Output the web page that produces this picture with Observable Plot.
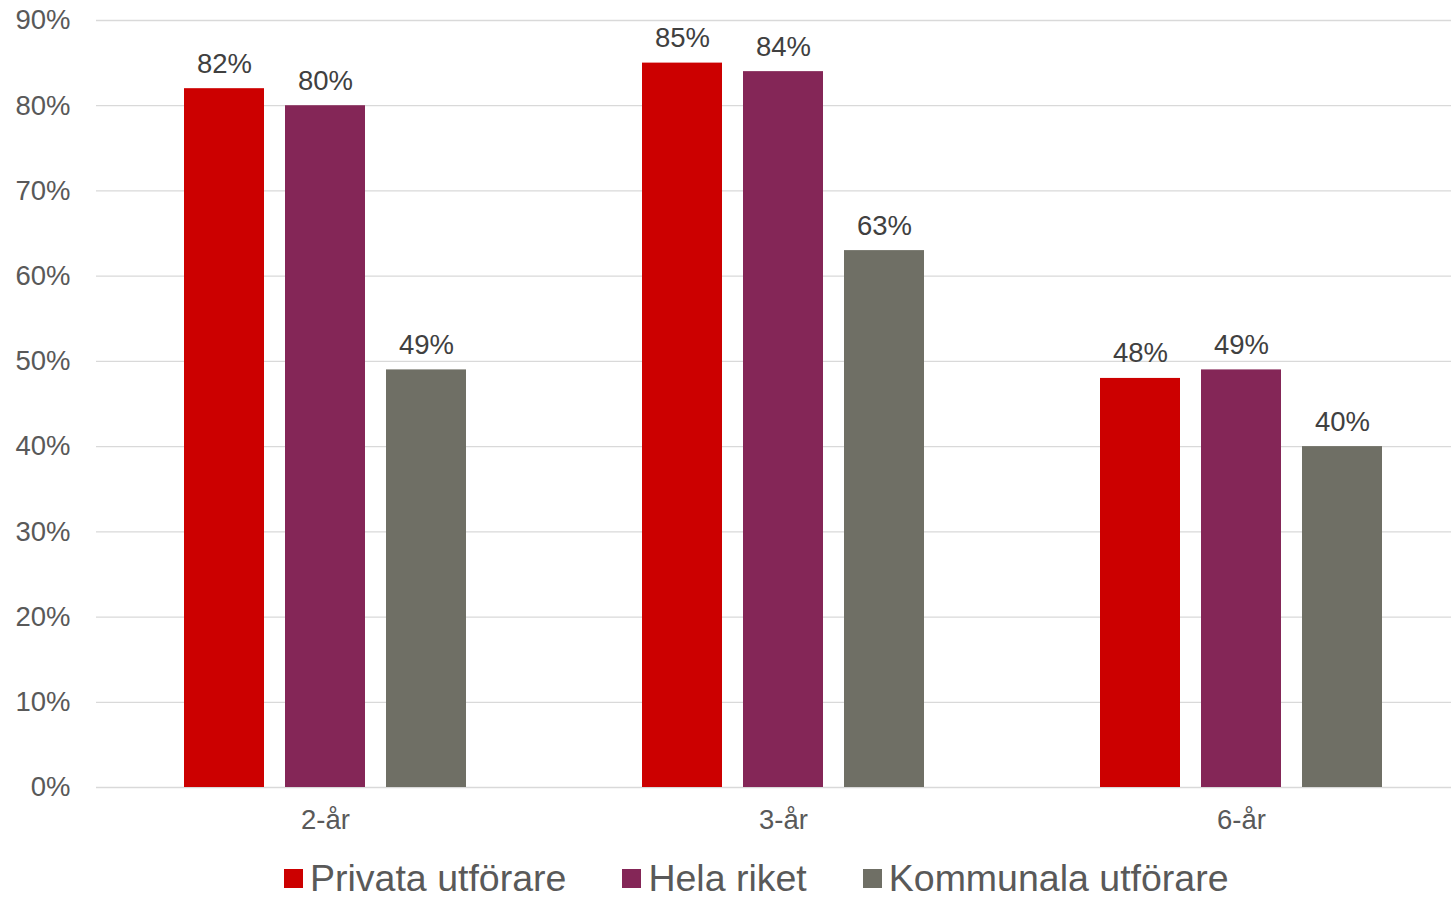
<!DOCTYPE html>
<html><head><meta charset="utf-8">
<script src="https://cdn.jsdelivr.net/npm/d3@7"></script>
<script src="https://cdn.jsdelivr.net/npm/@observablehq/plot@0.6"></script>
<style>
body{margin:0;background:#fff;overflow:hidden;font-family:"Liberation Sans",Arial,sans-serif;}
#legend{display:flex;align-items:center;height:40px;margin-top:13px;padding-left:284px;font-size:37.5px;color:#595959;white-space:nowrap;}
.item{display:flex;align-items:center;margin-right:56px;}
.sw{width:19px;height:19px;margin-right:7px;flex:none;}
</style></head><body><div id="chart"></div><div id="legend"></div>
<script>
const categories = ["2-år", "3-år", "6-år"];
const series = ["Privata utförare", "Hela riket", "Kommunala utförare"];
const privata = [0.82, 0.85, 0.48];
const helaRiket = [0.80, 0.84, 0.49];
const kommunala = [0.49, 0.63, 0.40];
const colors = ["#CC0000", "#842657", "#6F6F65"];
const yTicks = [0, 0.1, 0.2, 0.3, 0.4, 0.5, 0.6, 0.7, 0.8, 0.9];

const values = [privata, helaRiket, kommunala];
const data = categories.flatMap((c, i) => series.map((s, j) => ({cat: c, series: s, value: values[j][i]})));
const pct = d3.format(".0%");
const font = "'Liberation Sans', Arial, sans-serif";

const chart = Plot.plot({
  width: 1451, height: 845,
  marginTop: 20, marginBottom: 58, marginLeft: 95, marginRight: 0,
  style: {fontFamily: font, overflow: "hidden", background: "white"},
  fx: {domain: categories, range: [95, 1470], padding: 0, label: null},
  x: {domain: series, paddingInner: 0.2118, paddingOuter: 0.8637, axis: null},
  y: {domain: [0, 0.9], label: null},
  color: {domain: series, range: colors},
  marks: [
    Plot.ruleY(yTicks, {stroke: "#D9D9D9", strokeWidth: 1.3}),
    Plot.barY(data, {fx: "cat", x: "series", y: "value", fill: "series"}),
    Plot.text(data, {fx: "cat", x: "series", y: "value", text: d => pct(d.value), lineAnchor: "bottom", dy: -16, fontSize: 27.5, fill: "#404040"}),
    Plot.axisY(yTicks, {tickFormat: pct, tickSize: 0, tickPadding: 26, fontSize: 27.5, color: "#595959", label: null}),
    Plot.axisFx({anchor: "bottom", tickSize: 0, tickPadding: 22, fontSize: 27.5, color: "#595959", label: null})
  ]
});
document.getElementById("chart").appendChild(chart);

const legend = document.getElementById("legend");
series.forEach((s, i) => {
  const item = document.createElement("div");
  item.className = "item";
  const sw = document.createElement("div");
  sw.className = "sw";
  sw.style.background = colors[i];
  const t = document.createElement("span");
  t.textContent = s;
  item.appendChild(sw);
  item.appendChild(t);
  legend.appendChild(item);
});
</script></body></html>
